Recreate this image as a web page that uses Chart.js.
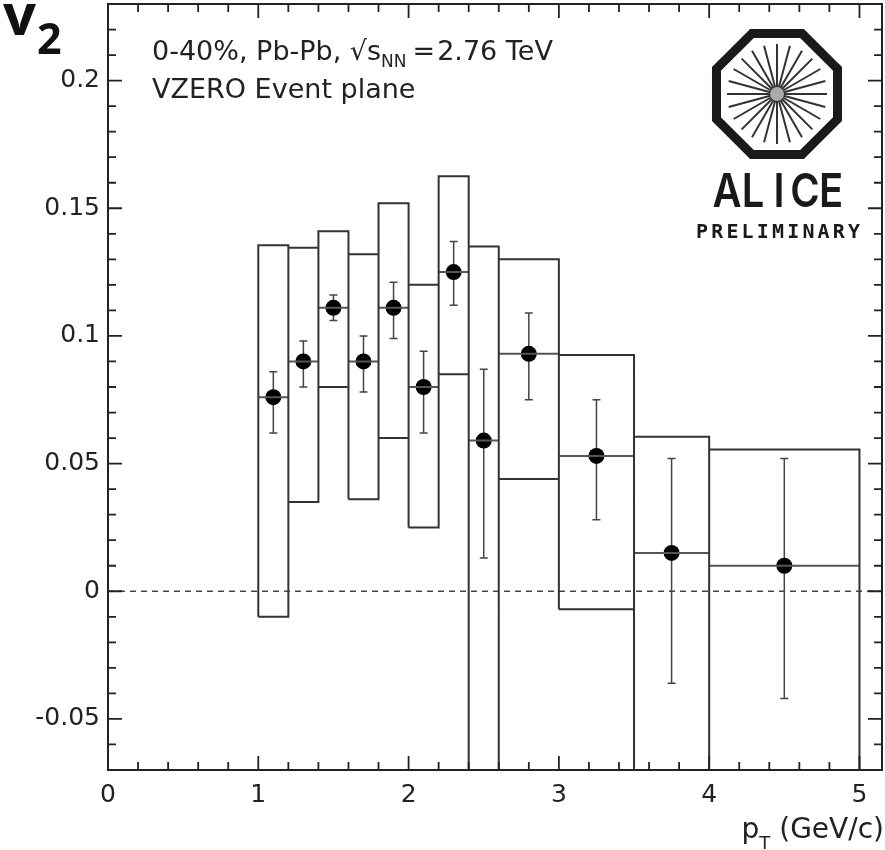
<!DOCTYPE html>
<html>
<head>
<meta charset="utf-8">
<title>v2 vs pT</title>
<script src="https://cdn.jsdelivr.net/npm/chart.js@4.4.1/dist/chart.umd.min.js"></script>
<style>
  html, body { margin: 0; padding: 0; background: #fff; }
  #wrap { width: 885px; height: 850px; }
</style>
</head>
<body>
<div id="wrap"><canvas id="v2-chart" width="885" height="850"></canvas></div>
<script>
// pT bins (GeV/c) and measured v2 with stat / syst uncertainties
const ptCenters = [1.1, 1.3, 1.5, 1.7, 1.9, 2.1, 2.3, 2.5, 2.8, 3.25, 3.75, 4.5]
const binLow = [1.0, 1.2, 1.4, 1.6, 1.8, 2.0, 2.2, 2.4, 2.6, 3.0, 3.5, 4.0]
const binHigh = [1.2, 1.4, 1.6, 1.8, 2.0, 2.2, 2.4, 2.6, 3.0, 3.5, 4.0, 5.0]
const v2Values = [0.076, 0.090, 0.111, 0.090, 0.111, 0.080, 0.125, 0.059, 0.093, 0.053, 0.015, 0.010]
const statLow = [0.062, 0.080, 0.106, 0.078, 0.099, 0.062, 0.112, 0.013, 0.075, 0.028, -0.036, -0.042]
const statHigh = [0.086, 0.098, 0.116, 0.100, 0.121, 0.094, 0.137, 0.087, 0.109, 0.075, 0.052, 0.052]
const systLow = [-0.010, 0.035, 0.080, 0.036, 0.060, 0.025, 0.085, -0.100, 0.044, -0.007, -0.100, -0.100]
const systHigh = [0.1355, 0.1345, 0.141, 0.132, 0.152, 0.120, 0.1625, 0.135, 0.130, 0.0925, 0.0605, 0.0555]

const xTicks = [0, 1, 2, 3, 4, 5]
const yTicks = [-0.05, 0, 0.05, 0.1, 0.15, 0.2]
const xRange = [0, 5.15]
const yRange = [-0.07, 0.23]

const tickFont = {family: '"DejaVu Sans"', size: 25}

// syst boxes as closed outlines, null breaks between bins
const systOutline = []
const binMeans = []
binLow.forEach((lo, i) => {
    const hi = binHigh[i]
    systOutline.push(
        {x: lo, y: systLow[i]}, {x: lo, y: systHigh[i]},
        {x: hi, y: systHigh[i]}, {x: hi, y: systLow[i]},
        {x: lo, y: systLow[i]}, {x: lo, y: null}
    )
    binMeans.push({x: lo, y: v2Values[i]}, {x: hi, y: v2Values[i]}, {x: hi, y: null})
})

const statErrorBars = {
    id: 'statErrorBars',
    beforeDatasetsDraw(chart) {
        const {ctx, chartArea: a, scales: {x, y}} = chart
        ctx.save()
        ctx.beginPath()
        ctx.rect(a.left, a.top, a.right - a.left, a.bottom - a.top)
        ctx.clip()
        ctx.strokeStyle = '#444'
        ctx.lineWidth = 1.5
        ptCenters.forEach((pt, i) => {
            const px = x.getPixelForValue(pt)
            const lo = y.getPixelForValue(statLow[i])
            const hi = y.getPixelForValue(statHigh[i])
            ctx.beginPath()
            ctx.moveTo(px, lo); ctx.lineTo(px, hi)
            ctx.moveTo(px - 4, lo); ctx.lineTo(px + 4, lo)
            ctx.moveTo(px - 4, hi); ctx.lineTo(px + 4, hi)
            ctx.stroke()
        })
        ctx.restore()
    }
}

// frame with inward ticks on all four sides
const frameTicks = {
    id: 'frameTicks',
    afterDraw(chart) {
        const {ctx, chartArea: a, scales: {x, y}} = chart
        ctx.save()
        ctx.strokeStyle = '#222'
        ctx.lineWidth = 2
        ctx.strokeRect(a.left, a.top, a.right - a.left, a.bottom - a.top)
        ctx.lineWidth = 1.8
        ctx.beginPath()
        for (let k = 0; k * 0.2 <= x.max + 1e-9; k++) {
            const px = x.getPixelForValue(k * 0.2)
            const len = k % 5 === 0 ? 14 : 8
            ctx.moveTo(px, a.bottom); ctx.lineTo(px, a.bottom - len)
            ctx.moveTo(px, a.top); ctx.lineTo(px, a.top + len)
        }
        for (let k = -7; k * 0.01 <= y.max + 1e-9; k++) {
            const py = y.getPixelForValue(k * 0.01)
            const len = k % 5 === 0 ? 14 : 8
            ctx.moveTo(a.left, py); ctx.lineTo(a.left + len, py)
            ctx.moveTo(a.right, py); ctx.lineTo(a.right - len, py)
        }
        ctx.stroke()
        ctx.restore()
    }
}

function drawSpaced(ctx, text, cx, baseline, pitch, font, squeeze) {
    ctx.font = font
    ctx.textAlign = 'center'
    const start = cx - pitch * (text.length - 1) / 2
    for (let i = 0; i < text.length; i++) {
        ctx.save()
        ctx.translate(start + i * pitch, baseline)
        ctx.scale(squeeze, 1)
        ctx.fillText(text[i], 0, 0)
        ctx.restore()
    }
}

const annotations = {
    id: 'annotations',
    afterDraw(chart) {
        const {ctx} = chart
        ctx.save()
        ctx.fillStyle = '#111'
        ctx.textBaseline = 'alphabetic'

        // y title: v2
        ctx.textAlign = 'left'
        ctx.font = 'bold 58px "Open Sans"'
        ctx.fillText('v', 3, 35)
        ctx.font = 'bold 43px "Open Sans"'
        ctx.fillText('2', 37, 54)

        // system label
        ctx.fillStyle = '#222'
        let cx = 152
        ctx.font = '27px "DejaVu Sans"'
        ctx.fillText('0-40%, Pb-Pb, √s', cx, 60)
        cx += ctx.measureText('0-40%, Pb-Pb, √s').width
        ctx.font = '17px "DejaVu Sans"'
        ctx.fillText('NN', cx, 67)
        cx += ctx.measureText('NN').width + 6
        ctx.font = '27px "DejaVu Sans"'
        ctx.fillText('=', cx, 60)
        cx += ctx.measureText('=').width + 2
        ctx.fillText('2.76 TeV', cx, 60)
        ctx.fillText('VZERO Event plane', 152, 98)

        // x title: pT (GeV/c), right aligned to the frame
        ctx.font = '28px "DejaVu Sans"'
        const wp = ctx.measureText('p').width
        const wRest = ctx.measureText(' (GeV/c)').width
        ctx.font = '18px "DejaVu Sans"'
        const wT = ctx.measureText('T').width
        let tx = 884 - wRest - wT - wp
        ctx.font = '28px "DejaVu Sans"'
        ctx.fillText('p', tx, 838)
        tx += wp
        ctx.font = '18px "DejaVu Sans"'
        ctx.fillText('T', tx, 849)
        tx += wT
        ctx.font = '28px "DejaVu Sans"'
        ctx.fillText(' (GeV/c)', tx, 838)

        // ALICE logo
        const ox = 777, oy = 94
        ctx.strokeStyle = '#1a1a1a'
        ctx.lineWidth = 9
        ctx.lineJoin = 'miter'
        ctx.beginPath()
        for (let k = 0; k < 8; k++) {
            const ang = Math.PI / 8 + k * Math.PI / 4
            const px = ox + 65.5 * Math.cos(ang), py = oy + 65.5 * Math.sin(ang)
            if (k === 0) ctx.moveTo(px, py); else ctx.lineTo(px, py)
        }
        ctx.closePath()
        ctx.stroke()
        ctx.lineWidth = 2
        ctx.strokeStyle = '#333'
        ctx.beginPath()
        for (let k = 0; k < 24; k++) {
            const ang = k * Math.PI / 12
            ctx.moveTo(ox + 6 * Math.cos(ang), oy + 6 * Math.sin(ang))
            ctx.lineTo(ox + 50 * Math.cos(ang), oy + 50 * Math.sin(ang))
        }
        ctx.stroke()
        ctx.fillStyle = '#aaa'
        ctx.beginPath()
        ctx.arc(ox, oy, 7, 0, Math.PI * 2)
        ctx.fill()
        ctx.fillStyle = '#1a1a1a'
        drawSpaced(ctx, 'ALICE', 779, 207, 26, '600 47px Inter', 0.85)
        drawSpaced(ctx, 'PRELIMINARY', 778, 238, 15.2, 'bold 19px "DejaVu Sans Mono"', 1.05)
        ctx.restore()
    }
}

new Chart(document.getElementById('v2-chart'), {
    type: 'scatter',
    data: {
        datasets: [
            {
                type: 'line',
                label: 'syst',
                data: systOutline,
                borderColor: '#333',
                borderWidth: 2,
                pointRadius: 0,
                fill: false,
                spanGaps: false,
                tension: 0
            },
            {
                type: 'line',
                label: 'bin mean',
                data: binMeans,
                borderColor: '#555',
                borderWidth: 2,
                pointRadius: 0,
                fill: false,
                spanGaps: false
            },
            {
                type: 'line',
                label: 'zero',
                data: [{x: xRange[0], y: 0}, {x: xRange[1], y: 0}],
                borderColor: '#444',
                borderWidth: 1.5,
                borderDash: [6, 5],
                pointRadius: 0
            },
            {
                label: 'v2',
                data: ptCenters.map((pt, i) => ({x: pt, y: v2Values[i]})),
                backgroundColor: '#000',
                borderWidth: 0,
                pointRadius: 8
            }
        ]
    },
    options: {
        responsive: false,
        animation: false,
        devicePixelRatio: 1,
        layout: {autoPadding: false, padding: {top: 4, right: 3, left: 0, bottom: 0}},
        plugins: {legend: {display: false}, tooltip: {enabled: false}},
        scales: {
            x: {
                type: 'linear',
                min: xRange[0],
                max: xRange[1],
                grid: {display: false, drawTicks: false},
                border: {display: false},
                afterBuildTicks: axis => { axis.ticks = xTicks.map(v => ({value: v})) },
                afterFit: scale => {
                    scale.height = 80
                    scale.paddingLeft = 0
                    scale.paddingRight = 0
                },
                ticks: {font: tickFont, color: '#222', padding: 10, maxRotation: 0, callback: v => String(v)}
            },
            y: {
                type: 'linear',
                min: yRange[0],
                max: yRange[1],
                grid: {display: false, drawTicks: false},
                border: {display: false},
                afterBuildTicks: axis => { axis.ticks = yTicks.map(v => ({value: v})) },
                afterFit: scale => {
                    scale.width = 108
                    scale.paddingTop = 0
                    scale.paddingBottom = 0
                },
                ticks: {font: tickFont, color: '#222', padding: 8, callback: v => String(+v.toFixed(2))}
            }
        }
    },
    plugins: [statErrorBars, frameTicks, annotations]
})
</script>
</body>
</html>
